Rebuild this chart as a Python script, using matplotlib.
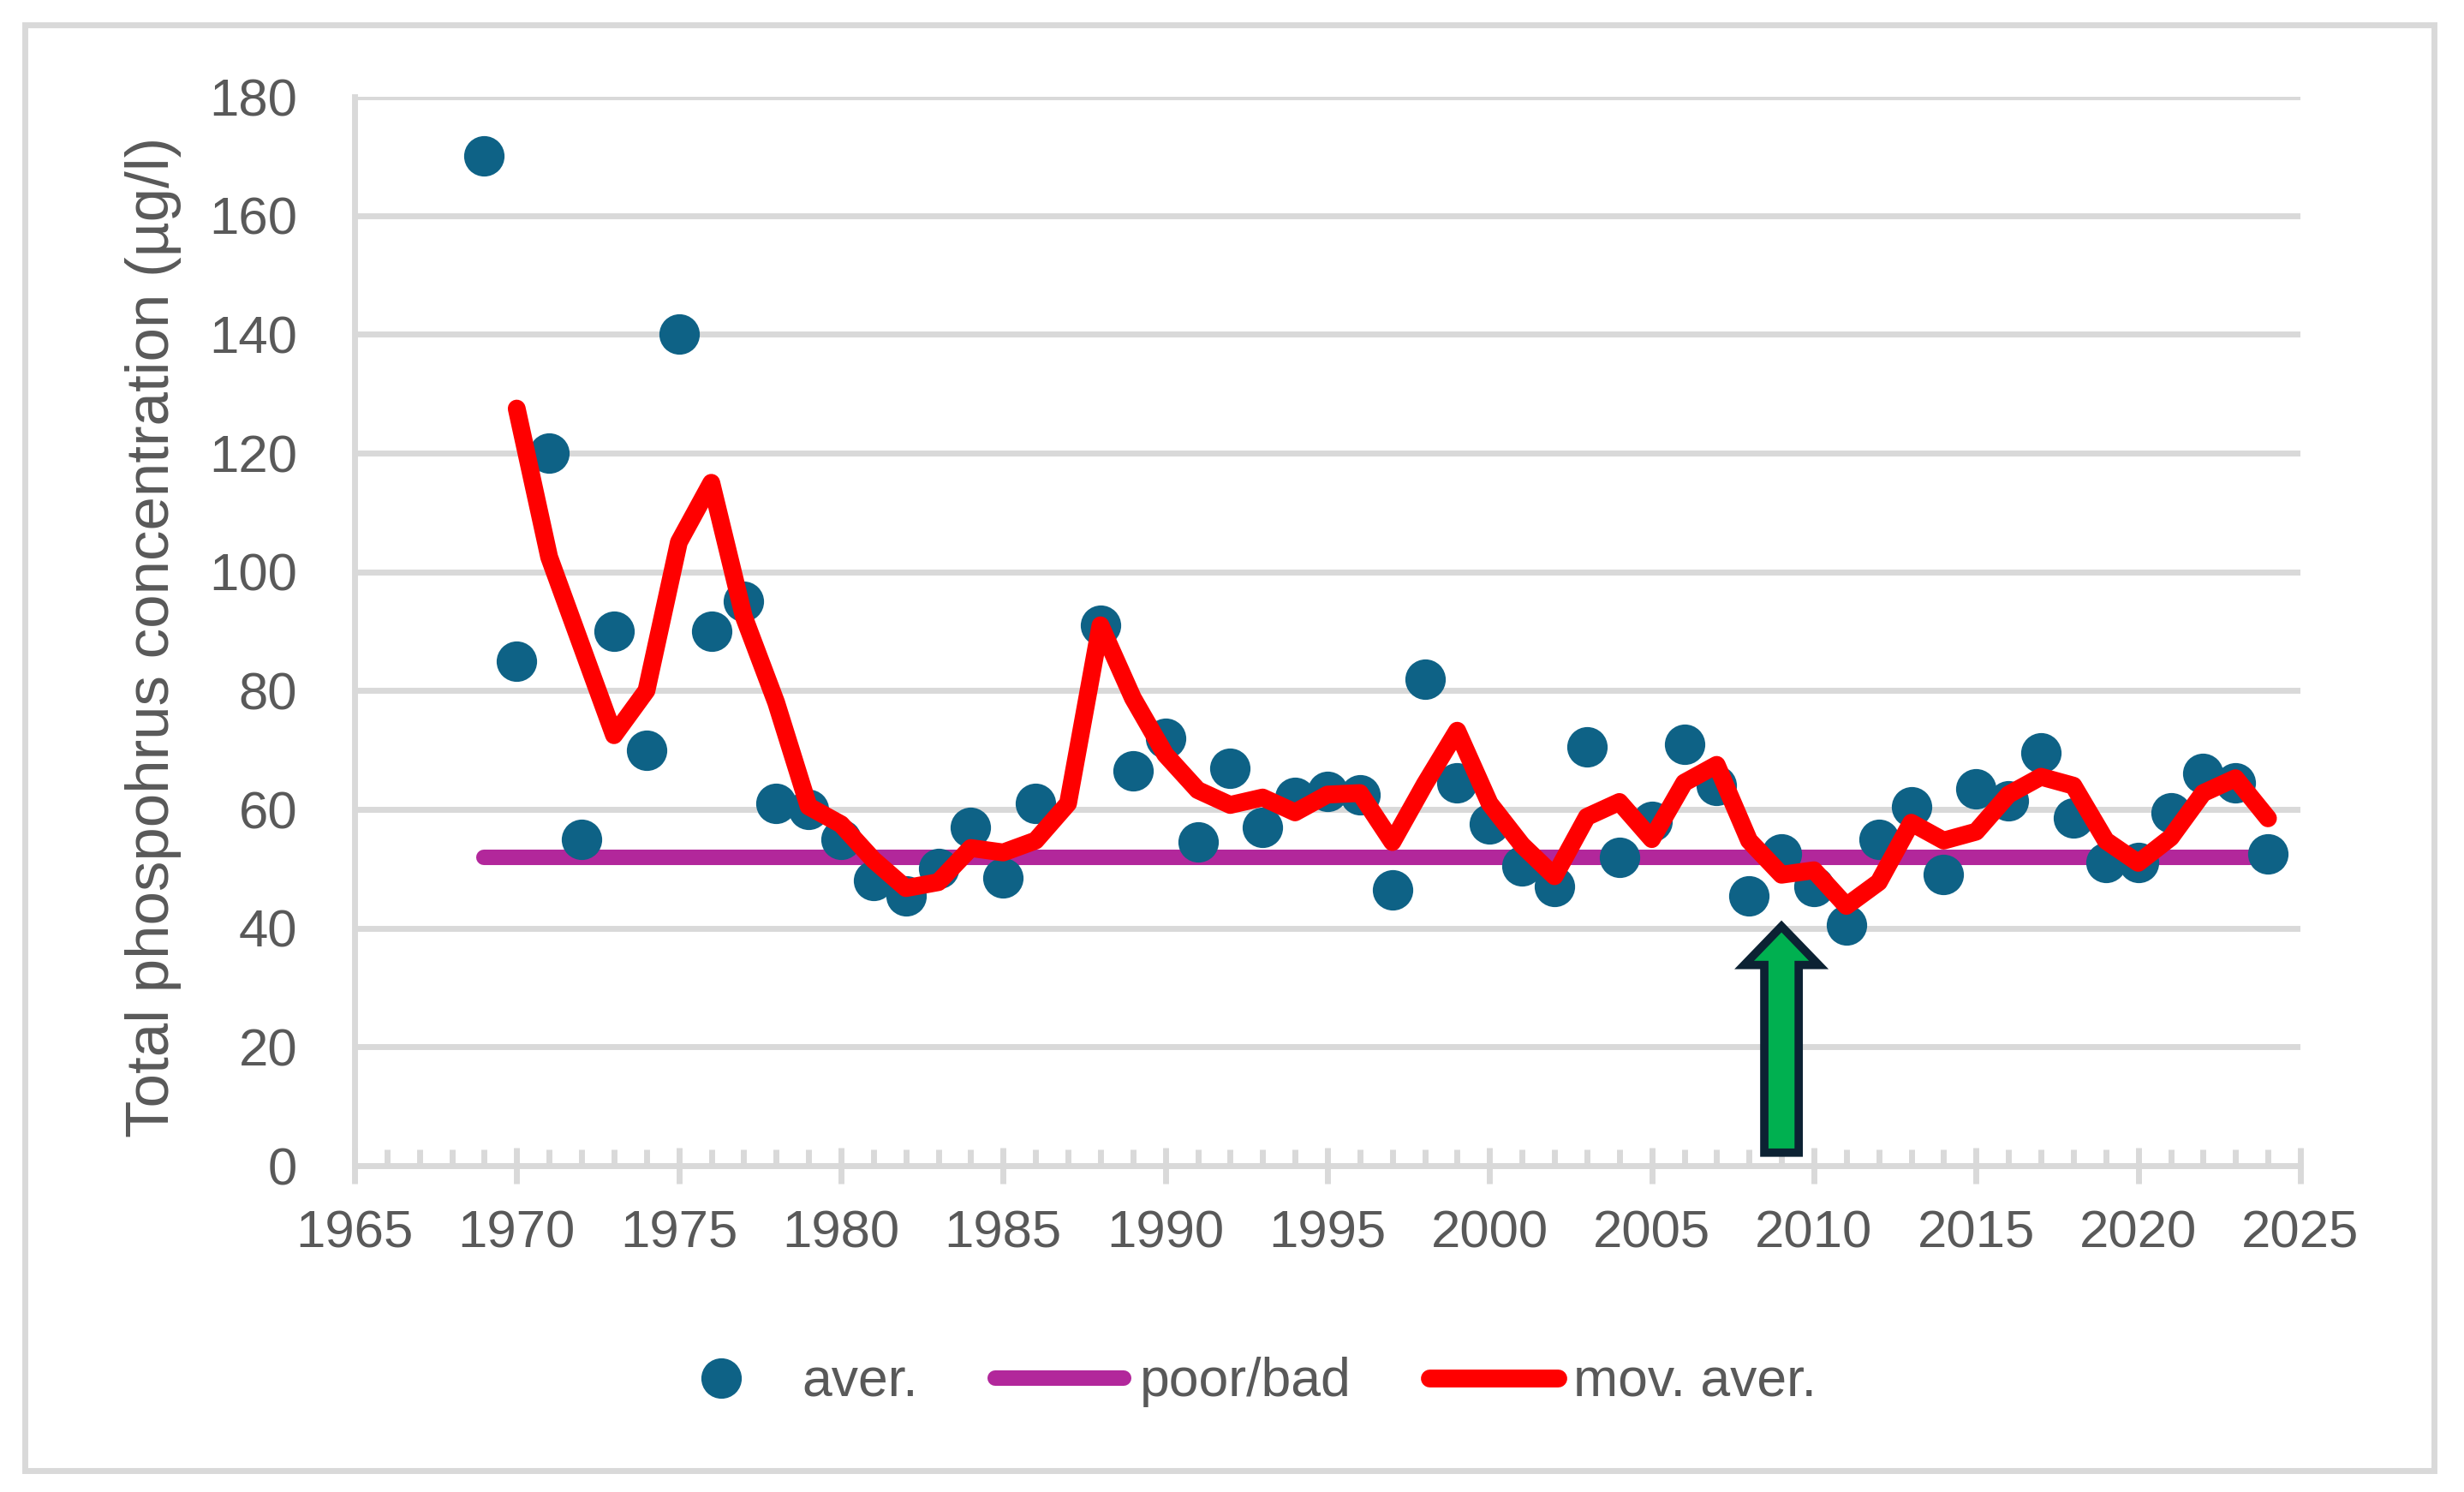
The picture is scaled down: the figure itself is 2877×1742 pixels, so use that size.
import matplotlib
matplotlib.use("Agg")
import matplotlib.pyplot as plt
from matplotlib import font_manager as fm
from matplotlib.lines import Line2D
from matplotlib.patches import Rectangle, FancyArrow
from matplotlib.ticker import MultipleLocator

# ---- data ----
years = [1969, 1970, 1971, 1972, 1973, 1974, 1975, 1976, 1977, 1978, 1979,
         1980, 1981, 1982, 1983, 1984, 1985, 1986, 1988, 1989,
         1990, 1991, 1992, 1993, 1994, 1995, 1996, 1997, 1998, 1999,
         2000, 2001, 2002, 2003, 2004, 2005, 2006, 2007, 2008, 2009,
         2010, 2011, 2012, 2013, 2014, 2015, 2016, 2017, 2018, 2019,
         2020, 2021, 2022, 2023, 2024]
aver = [170, 85, 120, 55, 90, 70, 140, 90, 95, 61, 60,
        55, 48, 45.5, 50, 57, 48.5, 61, 91, 66.5,
        72, 54.5, 67, 57, 62, 63, 62.5, 46.5, 82, 64.5,
        57.5, 50.5, 47, 70.5, 52, 58, 71, 64, 45.5, 52.5,
        47, 40.5, 55, 60.5, 49, 63.5, 61.5, 69.5, 58.5, 51,
        51, 59.5, 66, 64.5, 52.5]

mov_years = list(range(1970, 2025))
mov_aver = [127.5, 102.5, 87.5, 72.5, 80, 105, 115, 92.5, 78, 60.5,
            57.5, 51.5, 46.75, 47.75, 53.5, 52.75, 54.75, 61, 91, 78.75,
            69.25, 63.25, 60.75, 62, 59.5, 62.5, 62.75, 54.5, 64.25, 73.25,
            61, 54, 48.75, 58.75, 61.25, 55, 64.5, 67.5, 54.75, 49,
            49.75, 43.75, 47.75, 57.75, 54.75, 56.25, 62.5, 65.5, 64, 54.75,
            51, 55.25, 62.75, 65.25, 58.5]

poor_years = [1969, 2024]
poor_bad = [52, 52]

arrow_year = 2009
arrow_from, arrow_to = 2.2, 40.3

x_ticks = list(range(1965, 2030, 5))
y_ticks = list(range(0, 200, 20))

# ---- fonts ----
def has_font(name):
    try:
        fm.findfont(fm.FontProperties(family=name), fallback_to_default=False)
        return True
    except Exception:
        return False

if has_font("Liberation Sans Narrow"):
    NARROW = ["Liberation Sans Narrow", "DejaVu Sans"]
    TICK_FS, LEG_FS = 52, 50
else:
    NARROW = ["Liberation Sans", "DejaVu Sans"]
    TICK_FS, LEG_FS = 44.5, 45
REG = ["Liberation Sans", "DejaVu Sans"]

# ---- style ----
GRID = "#D9D9D9"
TXT = "#595959"
BLUE = "#0E6286"
PURPLE = "#B2279B"
RED = "#FF0000"

fig = plt.figure(figsize=(28.77, 17.42), dpi=100)
ax = fig.add_axes([0.1439, 0.2187, 0.9336 - 0.1439, 0.9351 - 0.2187])

ax.set_xlim(1965, 2025)
ax.set_ylim(0, 180)

ax.yaxis.grid(True, color=GRID, linewidth=5)
ax.set_axisbelow(True)

for s in ["top", "right"]:
    ax.spines[s].set_visible(False)
for s in ["left", "bottom"]:
    ax.spines[s].set_color(GRID)
    ax.spines[s].set_linewidth(5)

ax.set_xticks(x_ticks)
ax.xaxis.set_minor_locator(MultipleLocator(1))
ax.set_yticks(y_ticks)
ax.tick_params(axis="x", which="major", direction="inout", length=30, width=5,
               color=GRID, pad=22, labelsize=TICK_FS, labelcolor=TXT)
ax.tick_params(axis="x", which="minor", direction="in", length=14, width=5,
               color=GRID)
ax.tick_params(axis="y", which="both", length=0, pad=48, labelsize=TICK_FS,
               labelcolor=TXT)
for lab in ax.get_xticklabels() + ax.get_yticklabels():
    lab.set_fontfamily(NARROW)

# series
ax.plot(poor_years, poor_bad, color=PURPLE, linewidth=13,
        solid_capstyle="round", zorder=3, label="poor/bad")
ax.plot(years, aver, linestyle="none", marker="o", markersize=34,
        markerfacecolor=BLUE, markeredgewidth=0, zorder=4, label="aver.")
ax.plot(mov_years, mov_aver, color=RED, linewidth=15, solid_capstyle="round",
        solid_joinstyle="round", zorder=5, label="mov. aver.")

# arrow
arr = FancyArrow(arrow_year, arrow_from, 0, arrow_to - arrow_from,
                 width=1.06, head_width=2.3, head_length=6.5,
                 length_includes_head=True, facecolor="#00B050",
                 edgecolor="#0C2233", linewidth=7, joinstyle="miter", zorder=6)
ax.add_patch(arr)

# y label
fig.text(0.0622, 0.573, "Total phospohrus concentration (µg/l)", rotation=90,
         ha="center", va="center", fontsize=51, color=TXT, family=REG)

# legend
handles = [
    Line2D([], [], linestyle="none", marker="o", markersize=34,
           markerfacecolor=BLUE, markeredgewidth=0),
    Line2D([], [], color=PURPLE, linewidth=13, solid_capstyle="round"),
    Line2D([], [], color=RED, linewidth=15, solid_capstyle="round"),
]
leg = fig.legend(handles, ["aver.", "poor/bad", "mov. aver."], ncol=3,
                 loc="center", bbox_to_anchor=(0.502, 0.0735), frameon=False,
                 prop={"family": NARROW, "size": LEG_FS}, handlelength=2.4,
                 handletextpad=0.3, columnspacing=1.45, labelcolor=TXT)

# outer border
fig.patches.append(Rectangle((0.01008, 0.01435), 0.98783 - 0.01008,
                             0.98335 - 0.01435, transform=fig.transFigure,
                             fill=False, edgecolor=GRID, linewidth=5))

fig.savefig("out.png", dpi=100, facecolor="white")
